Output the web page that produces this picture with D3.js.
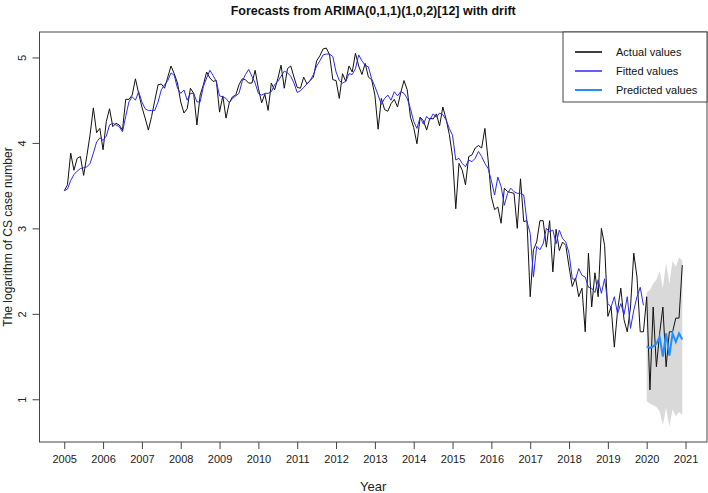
<!DOCTYPE html>
<html><head><meta charset="utf-8">
<script src="https://cdn.jsdelivr.net/npm/d3@7"></script>
<style>body{margin:0;background:#fff;} svg{display:block;font-family:"Liberation Sans",Arial,Helvetica,sans-serif;}</style>
</head><body><svg id="chart" width="708" height="493"></svg>
<script>
const startYear = 2005;
const actualValues = [
  3.44,3.51,3.88,3.68,3.82,3.84,3.62,3.85,4.10,4.41,4.12,4.17,
  3.92,4.25,4.40,4.19,4.23,4.21,4.15,4.51,4.51,4.56,4.75,4.58,
  4.42,4.29,4.15,4.31,4.50,4.68,4.69,4.64,4.77,4.90,4.81,4.70,
  4.48,4.35,4.40,4.64,4.58,4.21,4.56,4.68,4.83,4.76,4.72,4.73,
  4.36,4.55,4.29,4.47,4.54,4.56,4.68,4.75,4.74,4.70,4.70,4.85,
  4.64,4.47,4.57,4.38,4.70,4.62,4.75,4.91,4.64,4.87,4.90,4.77,
  4.65,4.64,4.77,4.69,4.73,4.77,4.96,5.02,5.10,5.11,5.03,4.74,
  4.73,4.52,4.81,4.72,4.90,4.83,5.05,4.90,4.80,4.93,4.77,4.74,
  4.56,4.16,4.52,4.39,4.37,4.46,4.51,4.42,4.59,4.73,4.62,4.30,
  4.18,3.99,4.30,4.26,4.15,4.29,4.28,4.34,4.20,4.42,4.28,4.10,
  3.84,3.23,3.76,3.68,3.51,3.84,3.86,3.94,3.97,3.94,4.17,3.80,
  3.37,3.22,3.25,3.06,3.47,3.43,3.42,3.41,3.00,3.58,3.08,3.09,
  2.20,2.75,2.84,3.09,3.09,2.78,3.09,2.49,2.99,2.74,2.84,2.80,
  2.55,2.32,2.42,2.20,2.30,1.79,2.71,2.08,2.48,2.20,3.00,2.80,
  1.97,2.08,1.61,2.04,2.30,1.93,1.79,2.08,2.71,2.43,1.79,1.79,
  2.20,1.11,2.08,1.38,1.77,2.08,1.38,1.79,1.79,1.95,1.95,2.57
];
const fittedValues = [
  3.44,3.46,3.56,3.63,3.67,3.70,3.71,3.72,3.76,3.88,4.01,4.06,
  4.03,4.08,4.21,4.23,4.21,4.19,4.13,4.31,4.48,4.54,4.50,4.60,
  4.48,4.40,4.38,4.38,4.38,4.48,4.62,4.68,4.73,4.82,4.79,4.64,
  4.58,4.62,4.50,4.58,4.58,4.48,4.48,4.66,4.76,4.85,4.79,4.72,
  4.55,4.54,4.52,4.47,4.52,4.55,4.58,4.72,4.80,4.86,4.78,4.70,
  4.58,4.56,4.58,4.58,4.60,4.68,4.72,4.78,4.84,4.82,4.78,4.70,
  4.59,4.61,4.65,4.69,4.73,4.80,4.90,4.96,5.03,5.04,5.04,5.01,
  4.83,4.73,4.70,4.72,4.81,4.80,4.87,5.03,4.96,4.91,4.89,4.75,
  4.66,4.56,4.45,4.52,4.56,4.50,4.60,4.55,4.60,4.58,4.52,4.40,
  4.25,4.17,4.30,4.22,4.31,4.27,4.34,4.30,4.35,4.33,4.27,4.17,
  4.09,3.80,3.82,3.76,3.72,3.80,3.78,3.82,3.90,3.84,3.76,3.70,
  3.56,3.39,3.60,3.49,3.27,3.41,3.47,3.43,3.41,3.41,3.39,3.08,
  2.94,2.43,2.79,2.75,2.82,3.00,2.96,2.98,2.82,2.98,2.88,2.84,
  2.71,2.41,2.40,2.53,2.45,2.43,2.31,2.30,2.25,2.40,2.24,2.41,
  2.12,2.08,2.20,2.00,2.12,1.99,2.20,1.83,2.04,2.20,2.31,2.10
];
const predictedValues = [1.62,1.60,1.62,1.65,1.73,1.50,1.77,1.51,1.77,1.67,1.77,1.70];
const upper95 = [2.25,2.28,2.35,2.40,2.50,2.30,2.60,2.35,2.62,2.55,2.66,2.62];
const lower95 = [0.98,0.95,0.93,0.91,0.86,0.70,0.90,0.68,0.88,0.80,0.85,0.82];
const xTickLabels = [2005,2006,2007,2008,2009,2010,2011,2012,2013,2014,2015,2016,2017,2018,2019,2020,2021];
const yTickLabels = [1,2,3,4,5];
const legendLabels = ["Actual values","Fitted values","Predicted values"];
const legendColors = ["#000000","#2b2bf0","#1e90ff"];
const chartTitle = "Forecasts from ARIMA(0,1,1)(1,0,2)[12] with drift";
const xTitle = "Year";
const yTitle = "The logarithm of CS case number";

const svg = d3.select("#chart");
const frame = {left: 39.5, right: 707, top: 32, bottom: 442};
const x = d3.scaleLinear().domain([2004.363, 2021.553]).range([frame.left, frame.right]);
const y = d3.scaleLinear().domain([0.5, 5.298]).range([frame.bottom, frame.top]);
const tOf = (i, off) => startYear + (i + off) / 12;

svg.append("defs").append("clipPath").attr("id","clip")
  .append("rect").attr("x",frame.left).attr("y",frame.top)
  .attr("width",frame.right-frame.left).attr("height",frame.bottom-frame.top);
const plot = svg.append("g").attr("clip-path","url(#clip)");

const predOffset = fittedValues.length;
const band = predictedValues.map((v,i)=>({t:tOf(i,predOffset), lo:lower95[i], hi:upper95[i]}));
plot.append("path").datum(band)
  .attr("d", d3.area().x(d=>x(d.t)).y0(d=>y(d.lo)).y1(d=>y(d.hi)))
  .attr("fill","#d9d9d9");

const line = d3.line().x(d=>x(d.t)).y(d=>y(d.v));
plot.append("path").datum(actualValues.map((v,i)=>({t:tOf(i,0),v})))
  .attr("d",line).attr("fill","none").attr("stroke","#111").attr("stroke-width",1);
plot.append("path").datum(fittedValues.map((v,i)=>({t:tOf(i,0),v})))
  .attr("d",line).attr("fill","none").attr("stroke",legendColors[1]).attr("stroke-width",1);
plot.append("path").datum(predictedValues.map((v,i)=>({t:tOf(i,predOffset),v})))
  .attr("d",line).attr("fill","none").attr("stroke",legendColors[2]).attr("stroke-width",2);

// frame
svg.append("rect").attr("x",frame.left).attr("y",frame.top)
  .attr("width",frame.right-frame.left).attr("height",frame.bottom-frame.top)
  .attr("fill","none").attr("stroke","#444").attr("stroke-width",1);

// x axis
const xa = svg.append("g").attr("transform",`translate(0,${frame.bottom})`)
  .call(d3.axisBottom(x).tickValues(xTickLabels).tickSize(7).tickPadding(6).tickFormat(d3.format("d")));
xa.select(".domain").remove();
xa.selectAll("line").attr("stroke","#444");
xa.selectAll("text").attr("font-size",11).attr("fill","#222").attr("font-family",null);

// y axis
const ya = svg.append("g").attr("transform",`translate(${frame.left},0)`)
  .call(d3.axisLeft(y).tickValues(yTickLabels).tickSize(7).tickFormat(d3.format("d")));
ya.select(".domain").remove();
ya.selectAll("line").attr("stroke","#444");
ya.selectAll("text").attr("x",null).attr("dy",null)
  .attr("transform","translate(-14,0) rotate(-90)")
  .attr("text-anchor","middle").attr("font-size",11).attr("fill","#222").attr("font-family",null);

// titles
svg.append("text").attr("x",(frame.left+frame.right)/2).attr("y",15)
  .attr("text-anchor","middle").attr("font-weight","bold").attr("font-size",12.5).attr("fill","#111")
  .text(chartTitle);
svg.append("text").attr("x",(frame.left+frame.right)/2).attr("y",491)
  .attr("text-anchor","middle").attr("font-size",13).attr("fill","#222").text(xTitle);
svg.append("text").attr("transform",`translate(12,${(frame.top+frame.bottom)/2}) rotate(-90)`)
  .attr("text-anchor","middle").attr("font-size",12).attr("fill","#222").text(yTitle);

// legend
const lg = svg.append("g");
lg.append("rect").attr("x",563).attr("y",frame.top).attr("width",frame.right-563).attr("height",70)
  .attr("fill","#fff").attr("stroke","#444").attr("stroke-width",1);
legendLabels.forEach((lab,i)=>{
  const yy = 52 + i*19;
  lg.append("line").attr("x1",575).attr("x2",602).attr("y1",yy).attr("y2",yy)
    .attr("stroke",legendColors[i]).attr("stroke-width",i===2?2:1.5);
  lg.append("text").attr("x",616).attr("y",yy).attr("dy","0.35em")
    .attr("font-size",11).attr("fill","#111").text(lab);
});
</script></body></html>
